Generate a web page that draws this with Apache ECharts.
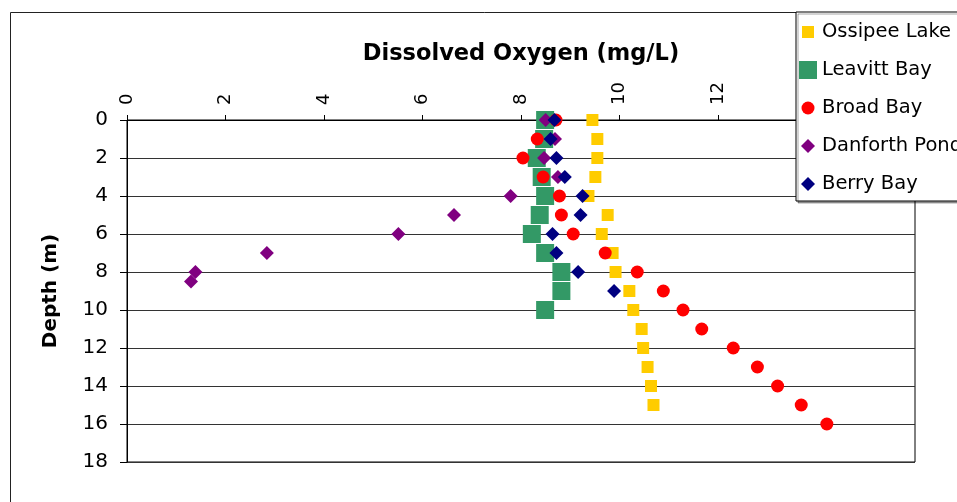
<!DOCTYPE html>
<html>
<head>
<meta charset="utf-8">
<script src="https://cdn.jsdelivr.net/npm/echarts@6/dist/echarts.min.js"></script>
<style>
html,body{margin:0;padding:0;background:#fff;}
#chart{width:957px;height:502px;}
</style>
</head>
<body>
<div id="chart"></div>
<script>
// ---- data (x = dissolved oxygen mg/L, y = depth m) ----
const seriesNames = ['Ossipee Lake', 'Leavitt Bay', 'Broad Bay', 'Danforth Pond', 'Berry Bay'];

const ossipeeDepth = [0,1,2,3,4,5,6,7,8,9,10,11,12,13,14,15];
const ossipeeDO    = [9.45,9.55,9.55,9.51,9.37,9.76,9.64,9.86,9.92,10.2,10.28,10.45,10.48,10.57,10.64,10.69];

const leavittDepth = [0,1,2,3,4,5,6,7,8,9,10];
const leavittDO    = [8.49,8.47,8.32,8.42,8.49,8.38,8.22,8.49,8.82,8.82,8.49];

const broadDepth = [0,1,2,3,4,5,6,7,8,9,10,11,12,13,14,15,16];
const broadDO    = [8.71,8.33,8.04,8.45,8.78,8.82,9.06,9.71,10.36,10.89,11.29,11.67,12.31,12.8,13.21,13.69,14.21];

const danforthDepth = [0,1,2,3,4,5,6,7,8,8.5];
const danforthDO    = [8.5,8.69,8.47,8.75,7.79,6.64,5.51,2.84,1.39,1.3];

const berryDepth = [0,1,2,3,4,5,6,7,8,9];
const berryDO    = [8.68,8.6,8.72,8.89,9.25,9.21,8.64,8.72,9.16,9.89];

const xTitle = 'Dissolved Oxygen (mg/L)';
const yTitle = 'Depth (m)';

function pairs(xs, ys) { return xs.map((v, i) => [v, ys[i]]); }

const FONT = 'DejaVu Sans';
const chart = echarts.init(document.getElementById('chart'), null, {renderer: 'canvas'});

const legendIcons = [
  'path://M0,0M18,18M3,3L15,3L15,15L3,15Z',
  'path://M0,0M18,18M0,0L18,0L18,18L0,18Z',
  'path://M0,0M18,18M2.5,9A6.5,6.5,0,1,1,15.5,9A6.5,6.5,0,1,1,2.5,9Z',
  'path://M0,0M18,18M9,2L16,9L9,16L2,9Z',
  'path://M0,0M18,18M9,2L16,9L9,16L2,9Z'
];

chart.setOption({
  animation: false,
  backgroundColor: '#fff',
  graphic: [{
    type: 'rect', left: 8, top: 10, z: -10, silent: true,
    shape: {x: 0, y: 0, width: 1100, height: 700},
    style: {fill: 'none', stroke: '#222', lineWidth: 1}
  }],
  grid: {
    left: 127, right: 42, top: 120, bottom: 40,
    show: true, borderColor: '#000', borderWidth: 1, backgroundColor: 'transparent'
  },
  legend: {
    orient: 'vertical',
    left: 796, top: 12,
    padding: [10, 40, 7, 3],
    itemWidth: 18, itemHeight: 18,
    itemGap: 18,
    itemTextGap: 7,
    backgroundColor: '#fff',
    borderColor: '#000', borderWidth: 1,
    shadowColor: 'rgba(0,0,0,0.35)', shadowOffsetX: 2, shadowOffsetY: 2, shadowBlur: 0,
    textStyle: {fontFamily: FONT, fontSize: 19.5, color: '#000', lineHeight: 20},
    data: seriesNames.map((n, i) => ({name: n, icon: legendIcons[i]}))
  },
  xAxis: {
    type: 'value', position: 'top',
    min: 0, max: 16, interval: 2,
    name: xTitle, nameLocation: 'middle', nameGap: 54,
    nameTextStyle: {fontFamily: FONT, fontSize: 22.5, fontWeight: 'bold', color: '#000'},
    axisLine: {show: true, onZero: false, lineStyle: {color: '#000', width: 1}},
    axisTick: {show: true, inside: false, length: 5, lineStyle: {color: '#000'}},
    axisLabel: {rotate: -90, margin: 15, fontFamily: FONT, fontSize: 18, color: '#000'},
    splitLine: {show: false}
  },
  yAxis: {
    type: 'value', inverse: true,
    min: 0, max: 18, interval: 2,
    name: yTitle, nameLocation: 'middle', nameGap: 66,
    nameTextStyle: {fontFamily: FONT, fontSize: 20, fontWeight: 'bold', color: '#000'},
    axisLine: {show: true, onZero: false, lineStyle: {color: '#000', width: 1}},
    axisTick: {show: true, inside: false, length: 7, lineStyle: {color: '#000'}},
    axisLabel: {margin: 19, fontFamily: FONT, fontSize: 20, color: '#000'},
    splitLine: {show: true, lineStyle: {color: '#333', width: 1}}
  },
  series: [
    {name: seriesNames[0], type: 'scatter', symbol: 'rect', symbolSize: 12,
     itemStyle: {color: '#FFCC00', opacity: 1}, data: pairs(ossipeeDO, ossipeeDepth), z: 2},
    {name: seriesNames[1], type: 'scatter', symbol: 'rect', symbolSize: 18,
     itemStyle: {color: '#339966', opacity: 1}, data: pairs(leavittDO, leavittDepth), z: 3},
    {name: seriesNames[2], type: 'scatter', symbol: 'circle', symbolSize: 13,
     itemStyle: {color: '#FF0000', opacity: 1}, data: pairs(broadDO, broadDepth), z: 4},
    {name: seriesNames[3], type: 'scatter', symbol: 'diamond', symbolSize: 14,
     itemStyle: {color: '#800080', opacity: 1}, data: pairs(danforthDO, danforthDepth), z: 5},
    {name: seriesNames[4], type: 'scatter', symbol: 'diamond', symbolSize: 14,
     itemStyle: {color: '#000080', opacity: 1}, data: pairs(berryDO, berryDepth), z: 6}
  ]
});
</script>
</body>
</html>
